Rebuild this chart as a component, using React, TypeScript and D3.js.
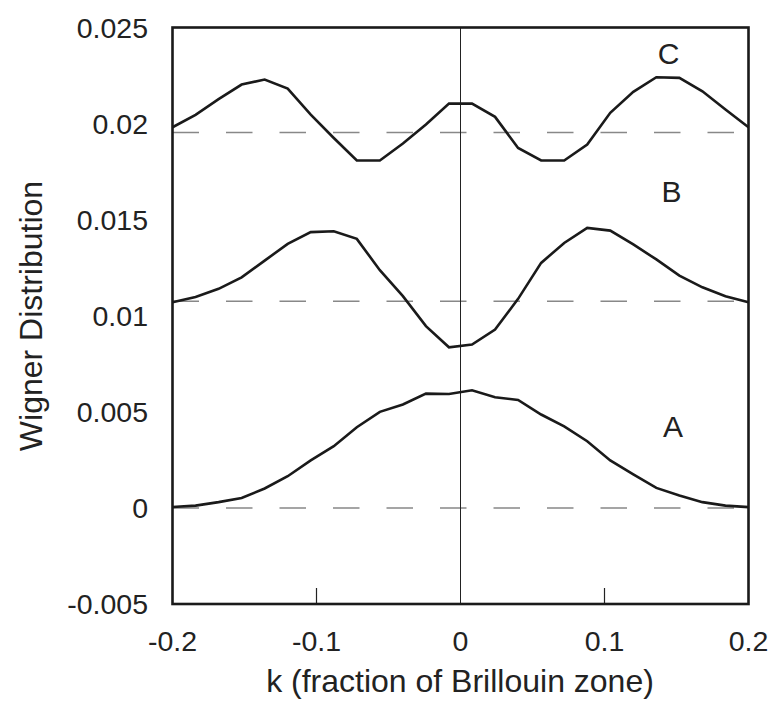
import React from "react";
import * as d3 from "d3";

const kValues: number[] = d3.range(26).map((i) => -0.2 + 0.016 * i);

const curveA: number[] = [
  0.00005, 0.00012, 0.0003, 0.00052, 0.00101, 0.00165, 0.00247, 0.00321, 0.0042, 0.005,
  0.00538, 0.00595, 0.00593, 0.00612, 0.00576, 0.00562, 0.00486, 0.00424, 0.00347, 0.00247,
  0.00174, 0.00104, 0.00065, 0.0003, 0.00012, 0.00004,
];
const curveB: number[] = [
  0.0107, 0.01098, 0.0114, 0.012, 0.01287, 0.01374, 0.01435, 0.0144, 0.014, 0.01237,
  0.01102, 0.00946, 0.00836, 0.0085, 0.00928, 0.01088, 0.01275, 0.01379, 0.01457, 0.01443,
  0.01371, 0.01293, 0.01209, 0.01148, 0.01102, 0.0107,
];
const curveC: number[] = [
  0.01981, 0.02045, 0.02127, 0.02203, 0.02229, 0.02182, 0.02047, 0.01925, 0.01808, 0.01808,
  0.01896, 0.01995, 0.02104, 0.02104, 0.02035, 0.01873, 0.01808, 0.01808, 0.01891, 0.02056,
  0.02165, 0.02241, 0.02238, 0.02168, 0.02073, 0.01981,
];
const baselines: number[] = [0, 0.01076, 0.01953];
const curveLabels: string[] = ["A", "B", "C"];
const labelPos: [number, number][] = [
  [0.1475, 0.0037],
  [0.1465, 0.0159],
  [0.1445, 0.02308],
];
const yTicks: number[] = [-0.005, 0, 0.005, 0.01, 0.015, 0.02, 0.025];
const yTickLabels: string[] = ["-0.005", "0", "0.005", "0.01", "0.015", "0.02", "0.025"];
const xTicks: number[] = [-0.2, -0.1, 0, 0.1, 0.2];
const xTickLabels: string[] = ["-0.2", "-0.1", "0", "0.1", "0.2"];

const W = 776;
const H = 707;
const left = 172.5;
const right = 748.5;
const top = 27.5;
const bottom = 604;
const FONT = "Arial, 'Liberation Sans', Helvetica, sans-serif";

export default function App() {
  const x = d3.scaleLinear().domain([-0.2, 0.2]).range([left, right]);
  const y = d3.scaleLinear().domain([-0.005, 0.025]).range([bottom, top]);
  const line = d3
    .line<number>()
    .x((_, i) => x(kValues[i]))
    .y((d) => y(d));
  const curves = [curveA, curveB, curveC];

  return (
    <svg
      width={W}
      height={H}
      style={{ position: "absolute", left: 0, top: 0, background: "#fff" }}
      fontFamily={FONT}
    >
      <rect x={0} y={0} width={W} height={H} fill="#fff" />
      {baselines.map((b, i) => (
        <line
          key={"b" + i}
          x1={left}
          x2={right}
          y1={y(b)}
          y2={y(b)}
          stroke="#888"
          strokeWidth={1.5}
          strokeDasharray="26.5,27"
        />
      ))}
      <line x1={x(0)} x2={x(0)} y1={top} y2={bottom} stroke="#222" strokeWidth={1} />
      {xTicks
        .filter((t) => t !== 0 && Math.abs(t) !== 0.2)
        .map((t, i) => (
          <line key={"xt" + i} x1={x(t)} x2={x(t)} y1={bottom} y2={bottom - 16} stroke="#222" strokeWidth={1.2} />
        ))}
      {curves.map((c, i) => (
        <path key={"c" + i} d={line(c) || ""} fill="none" stroke="#1a1a1a" strokeWidth={2.6} strokeLinejoin="miter" />
      ))}
      <rect x={left} y={top} width={right - left} height={bottom - top} fill="none" stroke="#1a1a1a" strokeWidth={2.6} />
      {yTicks.map((t, i) => (
        <text key={"yl" + i} x={148} y={y(t)} dy="0.36em" textAnchor="end" fontSize={28.5} fill="#222">
          {yTickLabels[i]}
        </text>
      ))}
      {xTicks.map((t, i) => (
        <text key={"xl" + i} x={x(t)} y={651} textAnchor="middle" fontSize={28.5} fill="#222">
          {xTickLabels[i]}
        </text>
      ))}
      {curveLabels.map((l, i) => (
        <text key={"cl" + i} x={x(labelPos[i][0])} y={y(labelPos[i][1])} textAnchor="middle" fontSize={30} fill="#222">
          {l}
        </text>
      ))}
      <text x={460} y={692} textAnchor="middle" fontSize={32} fill="#222">
        k (fraction of Brillouin zone)
      </text>
      <text
        transform={`translate(42, 316) rotate(-90)`}
        textAnchor="middle"
        fontSize={32}
        fill="#222"
      >
        Wigner Distribution
      </text>
    </svg>
  );
}
